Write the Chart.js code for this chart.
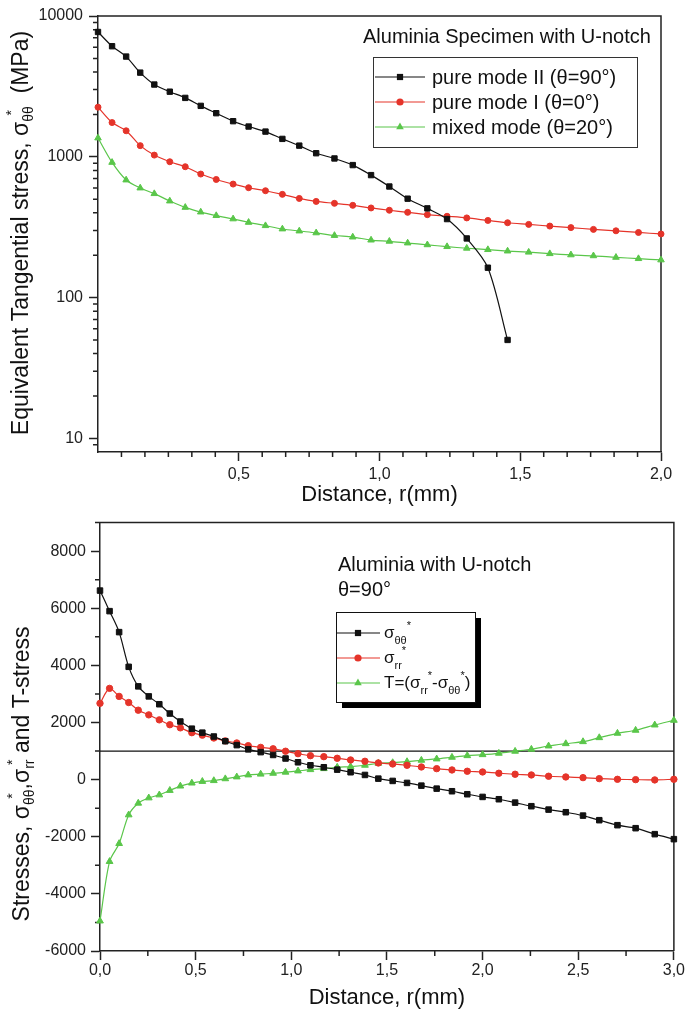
<!DOCTYPE html>
<html>
<head>
<meta charset="utf-8">
<title>Aluminia U-notch stresses</title>
<script src="https://cdn.jsdelivr.net/npm/chart.js@4.4.1/dist/chart.umd.min.js"></script>
<style>
body { margin: 0; background: #fff; }
canvas { position: absolute; left: 0; }
#top-chart { top: 0; }
#bottom-chart { top: 508px; }
</style>
</head>
<body>
<canvas id="top-chart" width="686" height="508"></canvas>
<canvas id="bottom-chart" width="686" height="506"></canvas>
<script>
var FONT = "'Liberation Sans', Arial, sans-serif";
var BLACK = "#111111";
var RED = "#e5342a";
var GREEN = "#5ac64a";

// distance from notch tip, mm (same mesh for both plots)
var distance = [0, 0.05, 0.1, 0.15, 0.2, 0.255, 0.31, 0.365, 0.42, 0.48, 0.535, 0.595, 0.655, 0.715, 0.775,
	0.84, 0.905, 0.97, 1.035, 1.1, 1.17, 1.24, 1.31, 1.385, 1.455, 1.53, 1.605, 1.68, 1.76, 1.84, 1.92, 2.0,
	2.085, 2.17, 2.255, 2.345, 2.435, 2.525, 2.61, 2.705, 2.8, 2.9, 3.0];

// top plot: equivalent tangential stress (MPa)
var modeII = [7700, 6100, 5150, 3960, 3260, 2900, 2620, 2300, 2040, 1790, 1640, 1510, 1340, 1200, 1060,
	973, 873, 741, 615, 504, 430, 361, 263, 163, 50];
var modeI = [2250, 1750, 1530, 1200, 1028, 922, 850, 754, 690, 640, 603, 574, 541, 506, 482, 467, 452, 433,
	417, 403, 388, 378, 368, 353, 340, 331, 322, 314, 305, 298, 290, 283];
var mixedMode = [1360, 912, 684, 600, 547, 485, 437, 405, 382, 362, 342, 324, 307, 297, 288, 276, 269, 256,
	251, 244, 237, 230, 224, 219, 214, 210, 205, 201, 198, 193, 189, 185];

// bottom plot: stresses at theta=90
var sigmaTT = [6620, 5900, 5165, 3950, 3266, 2915, 2640, 2315, 2035, 1784, 1645, 1510, 1345, 1208, 1060,
	963, 864, 740, 608, 503, 434, 350, 259, 164, 35, -45, -115, -210, -315, -406, -511, -605, -686, -804,
	-930, -1049, -1141, -1259, -1420, -1595, -1700, -1909, -2084];
var sigmaRR = [2672, 3196, 2915, 2700, 2432, 2268, 2093, 1923, 1813, 1644, 1558, 1458, 1358, 1284, 1190,
	1130, 1080, 995, 909, 839, 804, 748, 689, 643, 584, 549, 503, 444, 385, 339, 294, 269, 224, 189, 164,
	119, 94, 70, 35, 12, 0, -10, 12];
var tStress = [-4950, -2867, -2238, -1234, -825, -640, -535, -378, -225, -120, -63, -35, 30, 94, 164, 192,
	222, 260, 304, 350, 385, 434, 455, 503, 573, 594, 629, 678, 724, 783, 839, 874, 923, 993, 1063, 1178,
	1259, 1329, 1469, 1623, 1728, 1913, 2077];
var refLevel = 1000;

var topXTicks = [0.5, 1.0, 1.5, 2.0];
var topXTickLabels = ["0,5", "1,0", "1,5", "2,0"];
var topYTicks = [10, 100, 1000, 10000];
var topYTickLabels = ["10", "100", "1000", "10000"];
var bottomXTicks = [0, 0.5, 1.0, 1.5, 2.0, 2.5, 3.0];
var bottomXTickLabels = ["0,0", "0,5", "1,0", "1,5", "2,0", "2,5", "3,0"];
var bottomYTicks = [-6000, -4000, -2000, 0, 2000, 4000, 6000, 8000];
var bottomYTickLabels = ["-6000", "-4000", "-2000", "0", "2000", "4000", "6000", "8000"];

function series(label, values, color, style, radius) {
	return {
		label: label,
		data: values.map(function(v, i) { return {x: distance[i], y: v}; }),
		borderColor: color,
		backgroundColor: color,
		borderWidth: 1.2,
		pointStyle: style,
		pointRadius: radius,
		pointBorderWidth: 1,
		pointBackgroundColor: color,
		pointBorderColor: color,
		tension: 0.3,
		clip: false
	};
}

function marker(ctx, style, x, y, r, color) {
	ctx.fillStyle = color;
	ctx.beginPath();
	if (style === "rect") {
		var s = r * Math.SQRT1_2;
		ctx.rect(x - s, y - s, 2 * s, 2 * s);
	} else if (style === "circle") {
		ctx.arc(x, y, r, 0, Math.PI * 2);
	} else {
		ctx.moveTo(x, y - r);
		ctx.lineTo(x + r * 0.866, y + r * 0.5);
		ctx.lineTo(x - r * 0.866, y + r * 0.5);
		ctx.closePath();
	}
	ctx.fill();
}

// parts: [text, size, dy, overlay]; overlay parts sit over the previous piece without advancing
function richText(ctx, parts, x, y, draw) {
	var cx = x, lastW = 0;
	parts.forEach(function(p) {
		ctx.font = p[1] + "px " + FONT;
		var w = ctx.measureText(p[0]).width;
		if (p[3]) {
			if (draw) ctx.fillText(p[0], cx - lastW * 0.6, y + p[2]);
		} else {
			if (draw) ctx.fillText(p[0], cx, y + p[2]);
			cx += w;
			lastW = w;
		}
	});
	return cx - x;
}

function yTitle(ctx, parts, baseX, centerY) {
	ctx.save();
	ctx.translate(baseX, centerY);
	ctx.rotate(-Math.PI / 2);
	ctx.fillStyle = BLACK;
	ctx.textBaseline = "alphabetic";
	var w = richText(ctx, parts, 0, 0, false);
	richText(ctx, parts, -w / 2, 0, true);
	ctx.restore();
}

function frameAndMinor(chart, minorX, minorY) {
	var ctx = chart.ctx, a = chart.chartArea;
	var sx = chart.scales.x, sy = chart.scales.y;
	ctx.save();
	ctx.strokeStyle = "#222";
	ctx.lineWidth = 1.5;
	ctx.beginPath();
	ctx.moveTo(a.left, a.top);
	ctx.lineTo(a.right, a.top);
	ctx.lineTo(a.right, a.bottom);
	minorX.forEach(function(v) {
		var px = sx.getPixelForValue(v);
		ctx.moveTo(px, a.bottom);
		ctx.lineTo(px, a.bottom + 5);
	});
	minorY.forEach(function(v) {
		var py = sy.getPixelForValue(v);
		ctx.moveTo(a.left, py);
		ctx.lineTo(a.left - 5, py);
	});
	ctx.stroke();
	ctx.restore();
}

function axisX(min, max, ticks, labels, height, pad, titlePad) {
	return {
		type: "linear", min: min, max: max,
		afterBuildTicks: function(s) { s.ticks = ticks.map(function(v) { return {value: v}; }); },
		afterFit: function(s) { s.height = height; },
		ticks: {
			autoSkip: false, maxRotation: 0, padding: pad, color: "#222",
			font: {family: FONT, size: 16},
			callback: function(v, i) { return labels[i]; }
		},
		grid: {drawOnChartArea: false, drawTicks: true, tickLength: 9, tickColor: "#222", tickWidth: 1.5},
		border: {color: "#222", width: 1.5},
		title: {display: true, text: "Distance, r(mm)", color: BLACK, font: {family: FONT, size: 22},
			padding: {top: 0, bottom: titlePad}}
	};
}

function axisY(type, min, max, ticks, labels, width, pad) {
	return {
		type: type, min: min, max: max,
		afterBuildTicks: function(s) { s.ticks = ticks.map(function(v) { return {value: v}; }); },
		afterFit: function(s) { s.width = width; },
		ticks: {
			autoSkip: false, padding: pad, color: "#222",
			font: {family: FONT, size: 16},
			callback: function(v, i) { return labels[i]; }
		},
		grid: {drawOnChartArea: false, drawTicks: true, tickLength: 9, tickColor: "#222", tickWidth: 1.5},
		border: {color: "#222", width: 1.5}
	};
}

// ---------- top plot ----------
var topMinorX = [];
for (var k = 1; k < 24; k++) { if (k % 6 !== 0) topMinorX.push(k / 12); }
var topMinorY = [9];
[10, 100, 1000].forEach(function(d) { for (var m = 2; m <= 9; m++) topMinorY.push(m * d); });

var topStyles = [["rect", BLACK], ["circle", RED], ["triangle", GREEN]];

new Chart(document.getElementById("top-chart"), {
	type: "line",
	data: {
		datasets: [
			series("pure mode II (\u03b8=90\u00b0)", modeII, BLACK, "rect", 3.8),
			series("pure mode I (\u03b8=0\u00b0)", modeI, RED, "circle", 3.0),
			series("mixed mode (\u03b8=20\u00b0)", mixedMode, GREEN, "triangle", 3.8)
		]
	},
	options: {
		responsive: false,
		animation: false,
		devicePixelRatio: 1,
		layout: {padding: {left: 0, top: 16, right: 25, bottom: 0}},
		plugins: {legend: {display: false}, tooltip: {enabled: false}},
		scales: {
			x: axisX(0, 2, topXTicks, topXTickLabels, 56, 4, 0),
			y: axisY("logarithmic", 8, 10000, topYTicks, topYTickLabels, 98, 6)
		}
	},
	plugins: [{
		id: "topDecor",
		beforeDatasetsDraw: function(chart) { frameAndMinor(chart, topMinorX, topMinorY); },
		afterDraw: function(chart) {
			var ctx = chart.ctx;
			ctx.save();
			ctx.fillStyle = BLACK;
			ctx.font = "20px " + FONT;
			ctx.textBaseline = "alphabetic";
			ctx.fillText("Aluminia Specimen with U-notch", 363, 43);

			// legend
			ctx.fillStyle = "#fff";
			ctx.fillRect(373, 57, 264, 90);
			ctx.strokeStyle = "#333";
			ctx.lineWidth = 1;
			ctx.strokeRect(373.5, 57.5, 264, 90);
			chart.data.datasets.forEach(function(ds, i) {
				var y = 77 + i * 25;
				ctx.strokeStyle = topStyles[i][1];
				ctx.lineWidth = 1.2;
				ctx.beginPath();
				ctx.moveTo(375, y);
				ctx.lineTo(425, y);
				ctx.stroke();
				marker(ctx, topStyles[i][0], 400, y, i === 1 ? 3.6 : 4.4, topStyles[i][1]);
				ctx.fillStyle = BLACK;
				ctx.font = "20px " + FONT;
				ctx.textBaseline = "middle";
				ctx.fillText(ds.label, 432, y + 1);
			});
			ctx.restore();

			yTitle(ctx, [
				["Equivalent Tangential stress, \u03c3", 23, 0],
				["\u03b8\u03b8", 14, 5],
				["*", 14, -12, true],
				["  (MPa)", 23, 0]
			], 28, 233);
		}
	}]
});

// ---------- bottom plot ----------
var bottomMinorX = [0.25, 0.75, 1.25, 1.75, 2.25, 2.75];
var bottomMinorY = [-5000, -3000, -1000, 1000, 3000, 5000, 7000, 9000];

var refLine = {
	label: "ref",
	data: [{x: distance[0], y: refLevel}, {x: distance[distance.length - 1], y: refLevel}],
	borderColor: BLACK,
	borderWidth: 1.3,
	pointRadius: 0
};

var bottomLegend = [
	["rect", BLACK, [["\u03c3", 17, 0], ["\u03b8\u03b8", 11, 6], ["*", 11, -9]]],
	["circle", RED, [["\u03c3", 17, 0], ["rr", 11, 6], ["*", 11, -9]]],
	["triangle", GREEN, [["T=(\u03c3", 17, 0], ["rr", 11, 6], ["*", 11, -9], ["-\u03c3", 17, 0],
		["\u03b8\u03b8", 11, 6], ["*", 11, -9], [")", 17, 0]]]
];

new Chart(document.getElementById("bottom-chart"), {
	type: "line",
	data: {
		datasets: [
			series("\u03c3\u03b8\u03b8*", sigmaTT, BLACK, "rect", 3.9),
			series("\u03c3rr*", sigmaRR, RED, "circle", 3.2),
			series("T=(\u03c3rr*-\u03c3\u03b8\u03b8*)", tStress, GREEN, "triangle", 3.9),
			refLine
		]
	},
	options: {
		responsive: false,
		animation: false,
		devicePixelRatio: 1,
		layout: {padding: {left: 0, top: 13, right: 12, bottom: 0}},
		plugins: {legend: {display: false}, tooltip: {enabled: false}},
		scales: {
			x: axisX(0, 3, bottomXTicks, bottomXTickLabels, 63, 1, 3),
			y: axisY("linear", -6000, 9000, bottomYTicks, bottomYTickLabels, 100, 5)
		}
	},
	plugins: [{
		id: "bottomDecor",
		beforeDatasetsDraw: function(chart) { frameAndMinor(chart, bottomMinorX, bottomMinorY); },
		afterDraw: function(chart) {
			var ctx = chart.ctx;
			ctx.save();
			ctx.fillStyle = BLACK;
			ctx.font = "20px " + FONT;
			ctx.textBaseline = "alphabetic";
			ctx.fillText("Aluminia with U-notch", 338, 63);
			ctx.fillText("\u03b8=90\u00b0", 338, 88);

			// legend with drop shadow
			ctx.fillStyle = "#000";
			ctx.fillRect(342, 110, 139, 90);
			ctx.fillStyle = "#fff";
			ctx.fillRect(336, 104, 139, 90);
			ctx.strokeStyle = "#111";
			ctx.lineWidth = 1;
			ctx.strokeRect(336.5, 104.5, 139, 90);
			bottomLegend.forEach(function(row, i) {
				var y = 125 + i * 25;
				ctx.strokeStyle = row[1];
				ctx.lineWidth = 1.2;
				ctx.beginPath();
				ctx.moveTo(337, y);
				ctx.lineTo(380, y);
				ctx.stroke();
				marker(ctx, row[0], 358, y, i === 1 ? 3.6 : 4.4, row[1]);
				ctx.fillStyle = BLACK;
				ctx.textBaseline = "alphabetic";
				richText(ctx, row[2], 384, y + 5, true);
			});
			ctx.restore();

			yTitle(ctx, [
				["Stresses, \u03c3", 23, 0],
				["\u03b8\u03b8", 14, 5],
				["*", 14, -12, true],
				[",\u03c3", 23, 0],
				["rr", 14, 5],
				["*", 14, -12, true],
				[" and T-stress", 23, 0]
			], 29, 266);
		}
	}]
});
</script>
</body>
</html>
